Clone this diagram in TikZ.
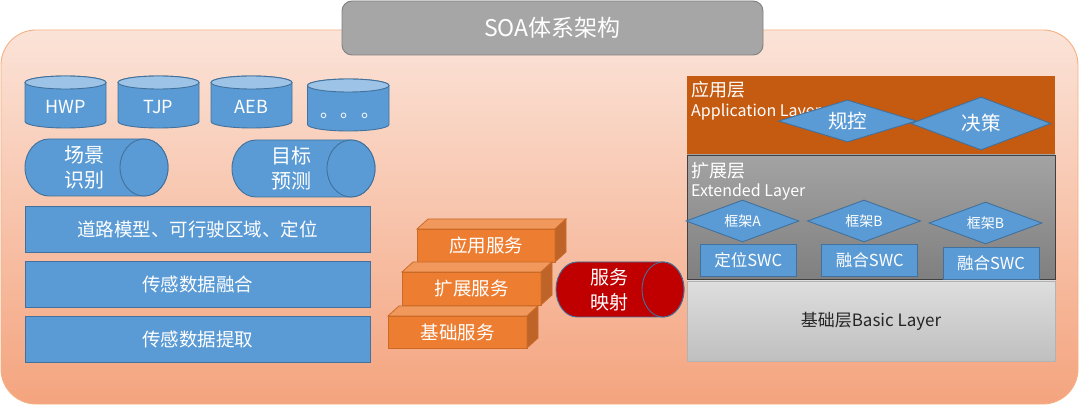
\documentclass[tikz,border=0pt]{standalone}
\usepackage{fontspec}
\setmainfont{Noto Sans CJK SC}
\usepackage{tikz}
\usetikzlibrary{shapes.geometric}
\definecolor{bluefill}{HTML}{5B9BD5}
\definecolor{blueedge}{HTML}{41719C}
\definecolor{bluetop}{HTML}{9DC3E6}
\definecolor{orangefront}{HTML}{ED7D31}
\definecolor{orangetop}{HTML}{F1985C}
\definecolor{orangeside}{HTML}{BF6428}
\definecolor{orangeedge}{HTML}{CB6A26}
\definecolor{mapred}{HTML}{C00000}
\definecolor{applayer}{HTML}{C55A11}
\definecolor{outtop}{HTML}{FBE3D8}
\definecolor{outbot}{HTML}{F4A47E}
\definecolor{outedge}{HTML}{F4B183}
\tikzstyle{box} = [draw=blueedge, fill=bluefill, line width=0.9pt]

\begin{document}
\begin{tikzpicture}[x=1pt, y=-1pt,
  whitetext/.style={text=white, inner sep=0pt, align=center},
  bar/.style={box, outer sep=0pt, minimum width=345pt, minimum height=46pt, whitetext, font=\fontsize{18.5}{24}\selectfont},
  oface/.style={draw=orangeedge, line width=0.8pt, outer sep=0pt},
  svc/.style={oface, fill=orangefront, minimum width=138pt, minimum height=33pt, whitetext, font=\fontsize{18.5}{24}\selectfont},
  diam/.style={diamond, aspect=3, inner sep=0pt, box, text=white},
  swc/.style={box, outer sep=0pt, minimum width=96pt, minimum height=32pt, whitetext, font=\fontsize{16.5}{20}\selectfont},
  layer/.style={outer sep=0pt, minimum width=368pt},
  layertext/.style={anchor=west, text=white, inner sep=0pt}]
\useasboundingbox (0,0) rectangle (1080,406);

% background and title
\shade[top color=outtop, bottom color=outbot, draw=outedge, line width=0.9pt, rounded corners=35pt] (1,30) rectangle (1078,404);
\node[draw=black!50, fill=black!35, line width=0.9pt, rounded corners=10pt, minimum width=421pt, minimum height=54pt, text=white, font=\fontsize{23}{28}\selectfont] (title) at (552.5,28) {SOA体系架构};

% function cylinders
\draw[box] (25,82.5) -- (25,121.5) arc[start angle=180, end angle=0, x radius=40.5, y radius=6.5] -- (106,82.5) arc[start angle=0, end angle=-180, x radius=40.5, y radius=6.5] -- cycle;
\draw[box, fill=bluetop] (65.5,82.5) ellipse[x radius=40.5, y radius=6.5];
\node[whitetext, font=\fontsize{18}{22}\selectfont] (hwp) at (65.5,107) {HWP};

\draw[box] (118,82.5) -- (118,121.5) arc[start angle=180, end angle=0, x radius=40.5, y radius=6.5] -- (199,82.5) arc[start angle=0, end angle=-180, x radius=40.5, y radius=6.5] -- cycle;
\draw[box, fill=bluetop] (158.5,82.5) ellipse[x radius=40.5, y radius=6.5];
\node[whitetext, font=\fontsize{18}{22}\selectfont] (tjp) at (158.5,107) {TJP};

\draw[box] (211,82.5) -- (211,121.5) arc[start angle=180, end angle=0, x radius=40.5, y radius=6.5] -- (292,82.5) arc[start angle=0, end angle=-180, x radius=40.5, y radius=6.5] -- cycle;
\draw[box, fill=bluetop] (251.5,82.5) ellipse[x radius=40.5, y radius=6.5];
\node[whitetext, font=\fontsize{18}{22}\selectfont] (aeb) at (251.5,107) {AEB};

\draw[box] (307.5,85.5) -- (307.5,124.5) arc[start angle=180, end angle=0, x radius=40.75, y radius=6.5] -- (389,85.5) arc[start angle=0, end angle=-180, x radius=40.75, y radius=6.5] -- cycle;
\draw[box, fill=bluetop] (348.25,85.5) ellipse[x radius=40.75, y radius=6.5];
\node[whitetext, font=\fontsize{18}{22}\selectfont] (more) at (350,116) {。\hspace{3pt}。\hspace{3pt}。};

% side cylinders
\draw[box] (49,139) -- (144,139) arc[start angle=-90, end angle=90, x radius=24, y radius=28.5] -- (49,196) arc[start angle=90, end angle=270, x radius=24, y radius=28.5] -- cycle;
\draw[box] (144,167.5) ellipse[x radius=24, y radius=28.5];
\node[whitetext, font=\fontsize{20}{25}\selectfont] (scene) at (84.5,167.5) {场景\\识别};

\draw[box] (256,140) -- (351,140) arc[start angle=-90, end angle=90, x radius=24, y radius=28.5] -- (256,197) arc[start angle=90, end angle=270, x radius=24, y radius=28.5] -- cycle;
\draw[box] (351,168.5) ellipse[x radius=24, y radius=28.5];
\node[whitetext, font=\fontsize{20}{25}\selectfont] (predict) at (291.5,168.5) {目标\\预测};

% perception stack
\node[bar] (road) at (197.5,229) {道路模型、可行驶区域、定位};
\node[bar] (fusion) at (197.5,284) {传感数据融合};
\node[bar] (extract) at (197.5,339) {传感数据提取};

% service steps
\node[svc] (appsvc) at (486,245.5) {应用服务};
\draw[oface, fill=orangetop] (appsvc.north west) -- ++(11,-10) -- ++(138,0) -- (appsvc.north east) -- cycle;
\draw[oface, fill=orangeside] (appsvc.north east) -- ++(11,-10) -- ++(0,33) -- (appsvc.south east) -- cycle;

\node[svc, minimum width=139pt] (extsvc) at (471.5,288.5) {扩展服务};
\draw[oface, fill=orangetop] (extsvc.north west) -- ++(11,-10) -- ++(139,0) -- (extsvc.north east) -- cycle;
\draw[oface, fill=orangeside] (extsvc.north east) -- ++(11,-10) -- ++(0,33) -- (extsvc.south east) -- cycle;

\node[svc, minimum width=139pt, minimum height=32pt] (basesvc) at (457.5,332) {基础服务};
\draw[oface, fill=orangetop] (basesvc.north west) -- ++(11,-10) -- ++(139,0) -- (basesvc.north east) -- cycle;
\draw[oface, fill=orangeside] (basesvc.north east) -- ++(11,-10) -- ++(0,32) -- (basesvc.south east) -- cycle;

% service mapping
\draw[box, fill=mapred] (577,262) -- (663,262) arc[start angle=-90, end angle=90, x radius=21, y radius=27.5] -- (577,317) arc[start angle=90, end angle=270, x radius=21, y radius=27.5] -- cycle;
\draw[box, fill=mapred] (663,289.5) ellipse[x radius=21, y radius=27.5];
\node[whitetext, font=\fontsize{19}{25}\selectfont] (mapping) at (609.5,289.5) {服务\\映射};

% layers
\node[layer, fill=applayer, minimum height=79pt] (applay) at (871,115.5) {};
\node[layertext, font=\fontsize{18}{22}\selectfont] (appcn) at (691,90) {应用层};
\node[layertext, font=\fontsize{16}{20}\selectfont] (appen) at (691,112) {Application Layer};
\node[diam, minimum width=138pt, minimum height=42pt, font=\fontsize{19.5}{24}\selectfont] (rule) at (847.5,121) {规控};
\node[diam, minimum width=140pt, minimum height=53pt, font=\fontsize{19.5}{24}\selectfont] (decide) at (981,123.5) {决策};

\node[layer, top color=black!36, bottom color=black!50, draw=black!75, line width=0.9pt, minimum height=124pt] (extlay) at (871,217) {};
\node[layertext, font=\fontsize{18}{22}\selectfont] (extcn) at (691,171) {扩展层};
\node[layertext, font=\fontsize{16}{20}\selectfont] (exten) at (691,192) {Extended Layer};
\node[diam, minimum width=113pt, minimum height=42pt, font=\fontsize{14}{18}\selectfont] (frameA) at (742.5,221) {框架A};
\node[diam, minimum width=113pt, minimum height=42pt, font=\fontsize{14}{18}\selectfont] (frameB) at (864,221) {框架B};
\node[diam, minimum width=113pt, minimum height=42pt, font=\fontsize{14}{18}\selectfont] (frameC) at (985.5,223) {框架B};
\node[swc] (locswc) at (748.25,260) {定位SWC};
\node[swc] (fuseswc) at (869.85,260) {融合SWC};
\node[swc] (fuseswcb) at (991,263) {融合SWC};

\node[layer, top color=black!13, bottom color=black!25, draw=black!30, line width=0.9pt, minimum height=80pt, text=black!85, font=\fontsize{17}{22}\selectfont] (baselay) at (871,321) {基础层Basic Layer};
\end{tikzpicture}
\end{document}
